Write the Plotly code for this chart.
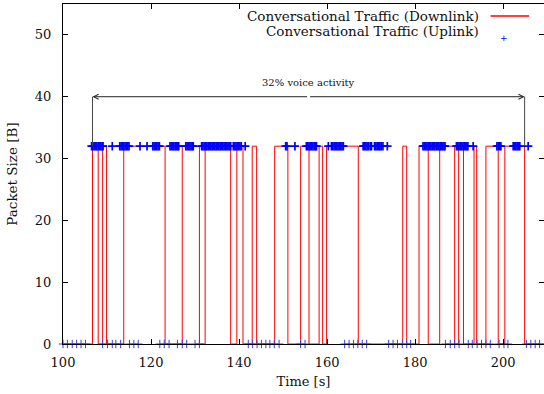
import plotly.graph_objects as go

# ---------------- data ----------------
# Downlink: step function (time [s], packet size [B]) held until next time
downlink_t = [100.0, 106.7, 108.0, 109.0, 109.9, 113.8, 123.2, 127.1, 131.0, 132.3,
              138.1, 139.5, 140.9, 143.0, 144.0, 148.1, 151.1, 154.0, 155.9, 158.2,
              159.0, 159.9, 167.1, 177.2, 178.1, 180.9, 183.0, 185.6, 189.0, 189.9,
              191.0, 193.4, 194.0, 196.1, 198.9, 200.4, 204.9, 209.3]
downlink_size = [0, 32, 0, 32, 0, 32, 0, 32, 0, 32,
                 0, 32, 0, 32, 0, 32, 0, 32, 0, 32,
                 0, 32, 0, 32, 0, 32, 0, 32, 0, 32,
                 0, 32, 0, 32, 0, 32, 0, 0]

# Uplink packets during talk spurts (size 32 B)
uplink_talk_t = [106.5, 106.8, 107.1, 107.4, 107.7, 108.0, 108.3, 108.6, 108.9, 109.1,
                 111.2,
                 112.9, 113.2, 113.5, 113.8, 114.1, 114.4, 114.7, 115.0,
                 117.5, 119.1,
                 120.4, 120.7, 121.0, 121.3, 121.6, 121.9,
                 124.3, 124.6, 124.9, 125.2, 125.5, 125.8, 126.1, 126.3,
                 127.9, 128.2, 128.5, 128.8, 129.1, 129.4, 129.6,
                 131.5, 131.8, 132.1, 132.4, 132.7, 133.0, 133.3, 133.6, 133.9, 134.2,
                 134.5, 134.8, 135.1, 135.4, 135.7, 136.0, 136.3, 136.6, 136.9, 137.2,
                 137.5, 137.8, 138.1, 138.7, 139.0, 139.3, 139.6, 139.9, 140.2, 140.5,
                 141.4,
                 150.6, 150.9, 152.7,
                 155.3, 155.6, 155.9, 156.2, 156.5, 156.8, 157.1, 157.4, 157.6,
                 160.3, 161.0, 161.3, 161.6, 161.9, 162.2, 162.5, 162.8, 163.1, 163.4, 163.7,
                 168.2, 168.5, 168.8, 169.1, 169.4, 169.8, 170.1,
                 170.8, 171.1, 171.4, 171.7, 172.0, 172.3, 172.7, 173.7,
                 181.8, 182.1, 182.4, 182.7, 183.0, 183.3, 183.6, 183.9, 184.2, 184.5,
                 184.8, 185.1, 185.4, 185.7, 186.0, 186.3, 186.6, 186.8,
                 189.4, 189.7, 190.0, 190.3, 190.6, 190.9, 191.2, 191.5, 191.8, 192.0,
                 193.2,
                 198.6, 198.9, 199.2, 199.5,
                 202.3, 202.6, 202.9, 203.2, 203.5, 203.8,
                 205.7]
# Uplink packets during silence (size 0 B)
uplink_silence_t = [100.0, 101.0, 102.1, 103.1, 104.1, 105.1,
                    109.0, 110.1, 111.2, 112.0, 113.1,
                    115.1, 116.1, 117.1,
                    122.0, 123.0, 124.1,
                    126.0, 127.1, 128.1,
                    130.0, 131.0,
                    142.1, 143.1, 144.1, 145.1, 146.1, 147.0, 148.0, 149.1,
                    154.0, 155.0,
                    164.0, 165.0, 166.0, 167.0, 168.0, 169.0,
                    174.0, 175.0, 176.0, 177.1, 178.1, 179.0,
                    186.9, 188.0, 189.0, 190.0,
                    192.1, 193.0, 194.1, 195.1, 196.1, 197.1,
                    199.1, 200.2, 201.1,
                    205.3, 206.3, 207.3, 208.3]
talk_size = 32
silence_size = 0

x_ticks = [100, 120, 140, 160, 180, 200]
y_ticks = [0, 10, 20, 30, 40, 50]
activity_start, activity_end, activity_level = 106.7, 204.9, 40
activity_label = "32% voice activity"
legend_names = ["Conversational Traffic (Downlink)", "Conversational Traffic (Uplink)"]

# ---------------- figure ----------------
FONT = "DejaVu Serif"
TXT = "#111111"
fig = go.Figure()

fig.add_trace(go.Scatter(
    x=downlink_t, y=downlink_size, mode="lines", line_shape="hv",
    line=dict(color="#ff0000", width=1), showlegend=False, hoverinfo="skip"))

fig.add_trace(go.Scatter(
    x=uplink_talk_t, y=[talk_size] * len(uplink_talk_t), mode="markers", cliponaxis=False,
    marker=dict(symbol="cross-thin", size=6, line=dict(color="#0000ff", width=1.7)),
    showlegend=False, hoverinfo="skip"))
fig.add_trace(go.Scatter(
    x=uplink_silence_t, y=[silence_size] * len(uplink_silence_t), mode="markers",
    cliponaxis=False,
    marker=dict(symbol="cross-thin", size=6, line=dict(color="#3a3aff", width=1)),
    showlegend=False, hoverinfo="skip"))

# arrow showing activity span
mid = (activity_start + activity_end) / 2
for end in (activity_start, activity_end):
    fig.add_annotation(x=end, y=activity_level, ax=mid, ay=activity_level,
                       xref="x", yref="y", axref="x", ayref="y", text="",
                       showarrow=True, arrowhead=5, arrowsize=1, arrowwidth=1,
                       arrowcolor="#222222", standoff=0, startstandoff=0)
    fig.add_shape(type="line", x0=end, x1=end, y0=talk_size, y1=activity_level,
                  xref="x", yref="y", line=dict(color="#444444", width=1))
fig.add_annotation(x=mid, y=activity_level + 2.3, xref="x", yref="y",
                   text=activity_label, showarrow=False,
                   font=dict(family=FONT, size=10, color=TXT))

# manual gnuplot-style legend (text then sample)
fig.add_annotation(x=0.869, y=0.9647, xref="paper", yref="paper", xanchor="right",
                   yanchor="middle", text=legend_names[0], showarrow=False,
                   font=dict(family=FONT, size=13.5, color=TXT))
fig.add_annotation(x=0.869, y=0.922, xref="paper", yref="paper", xanchor="right",
                   yanchor="middle", text=legend_names[1], showarrow=False,
                   font=dict(family=FONT, size=13.5, color=TXT))
fig.add_shape(type="line", xref="paper", yref="paper", x0=0.889, x1=0.969,
              y0=0.9647, y1=0.9647, line=dict(color="#ff4040", width=2))
fig.add_annotation(x=0.929, y=0.922, xref="paper", yref="paper", text="+",
                   showarrow=False, font=dict(family="DejaVu Sans", size=9, color="#0000ff"))

axis_common = dict(showgrid=False, zeroline=False, ticks="inside", ticklen=5,
                   tickcolor="black", tickwidth=1, linecolor="black", linewidth=1,
                   showline=True, tickfont=dict(family=FONT, size=13, color=TXT))

fig.update_layout(
    width=544, height=394,
    margin=dict(l=63, r=0, t=4, b=50),
    paper_bgcolor="white", plot_bgcolor="white",
    xaxis=dict(range=[100, 209.3], tickvals=x_ticks, mirror="ticks",
               title=dict(text="Time [s]", font=dict(family=FONT, size=13, color=TXT),
                          standoff=8),
               ticklabelstandoff=6, **axis_common),
    yaxis=dict(range=[0, 55], tickvals=y_ticks,
               title=dict(text="Packet Size [B]", font=dict(family=FONT, size=13.5, color=TXT),
                          standoff=14),
               ticklabelstandoff=8, **axis_common),
    yaxis2=dict(range=[0, 55], tickvals=y_ticks, overlaying="y", side="right",
                showline=False, showgrid=False, zeroline=False, showticklabels=False,
                ticks="inside", ticklen=5, tickcolor="black"),
)
fig.add_trace(go.Scatter(x=[None], y=[None], yaxis="y2", showlegend=False))

fig.write_html("out.html")
